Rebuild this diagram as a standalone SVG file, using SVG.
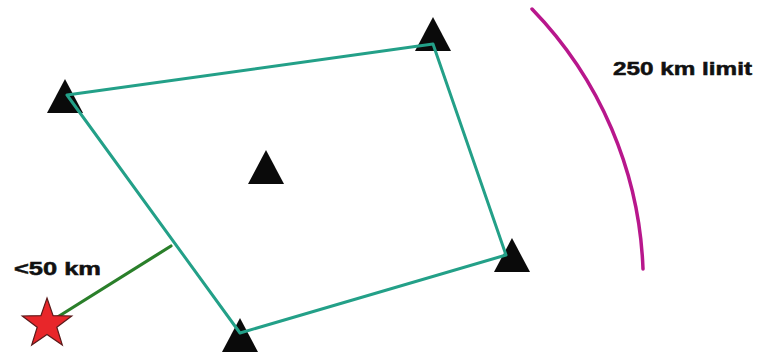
<svg xmlns="http://www.w3.org/2000/svg" width="759" height="353" viewBox="0 0 759 353">
<style>
.tri{fill:#0a0a0a}
.edge{fill:none;stroke:#23a088;stroke-width:3;stroke-linecap:round;stroke-linejoin:round}
.lbl{font-family:"Liberation Sans",Arial,sans-serif;font-weight:bold;font-size:18px;fill:#111;stroke:#111;stroke-width:0.5}
</style>
<defs>
<path id="tr" d="M0,0 L18,34 L-18,34 Z"/>
</defs>
<rect width="759" height="353" fill="#ffffff"/>
<g id="station-1"><use href="#tr" class="tri" x="65" y="79"/></g>
<g id="station-2"><use href="#tr" class="tri" x="433" y="17"/></g>
<g id="station-3"><use href="#tr" class="tri" x="266" y="150"/></g>
<g id="station-4"><use href="#tr" class="tri" x="512" y="238"/></g>
<g id="station-5"><use href="#tr" class="tri" x="240" y="318"/></g>
<g id="connectors">
<path class="edge" d="M67,95 L433,44 L506,255 L240,333 Z"/>
<line x1="171" y1="246" x2="48" y2="323" stroke="#2a7f2a" stroke-width="3.2" stroke-linecap="round"/>
<path d="M532,9 A394,394 0 0 1 643,269" fill="none" stroke="#b8178c" stroke-width="3.5" stroke-linecap="round"/>
</g>
<g id="epicenter">
<polygon points="47,298 53.1,315.6 71.7,316 56.8,327.2 62.3,345 47,334.4 31.7,345 37.2,327.2 22.3,316 40.9,315.6" fill="#e8262a" stroke="#5a1a1a" stroke-width="1.2"/>
</g>
<g id="labels">
<text class="lbl" x="14" y="275" textLength="87" lengthAdjust="spacingAndGlyphs">&lt;50 km</text>
<text class="lbl" x="613" y="75" textLength="139" lengthAdjust="spacingAndGlyphs">250 km limit</text>
</g>
</svg>
